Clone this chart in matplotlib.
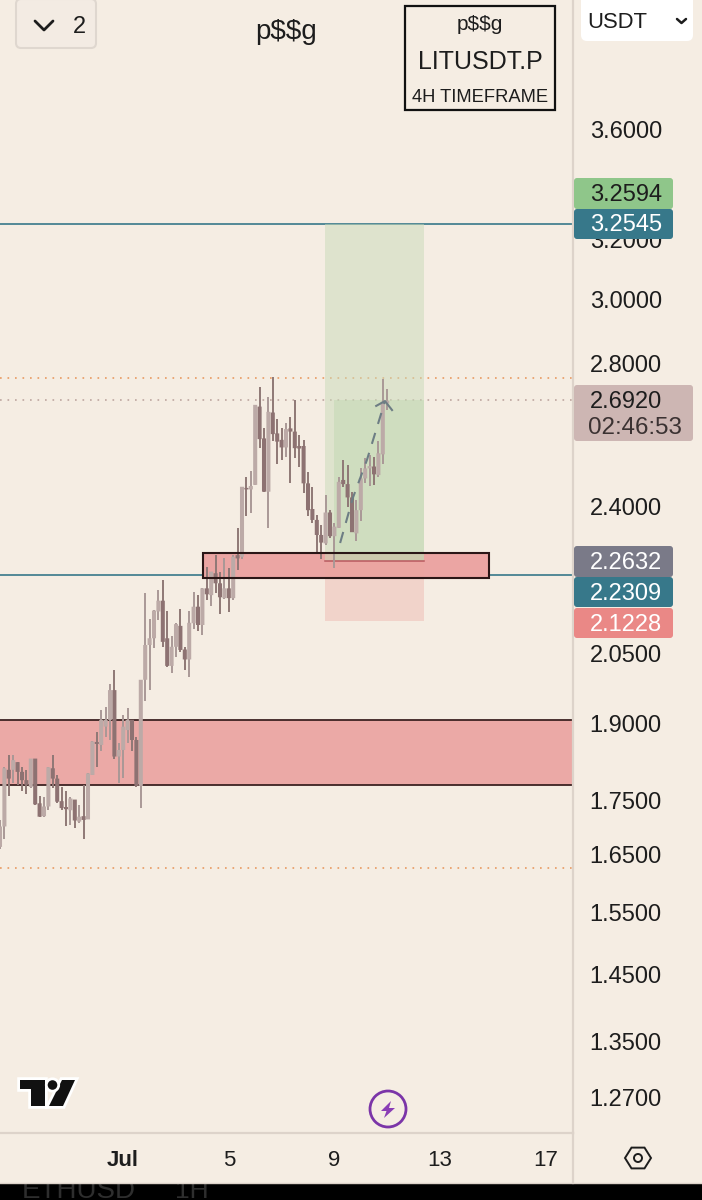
import numpy as np
import matplotlib
matplotlib.use('Agg')
import matplotlib.pyplot as plt
from matplotlib.patches import FancyBboxPatch, Rectangle, Polygon, Circle
from matplotlib.ticker import FixedLocator, FixedFormatter, NullLocator
import matplotlib.patheffects as pe

plt.rcParams['font.family'] = ['Liberation Sans', 'DejaVu Sans']

# 4H candles, first at index 0; day ticks every 24 candles
opens = [1.664,1.701,1.808,1.808,1.823,1.804,1.788,1.775,
         1.830,1.744,1.720,1.738,1.811,1.791,1.748,1.735,
         1.731,1.751,1.710,1.720,1.714,1.798,1.862,1.857,
         1.894,1.908,1.970,1.834,1.847,1.887,1.908,1.867,
         1.777,1.992,2.068,2.083,2.144,2.169,2.083,2.022,
         2.064,2.111,2.058,2.036,2.117,2.155,2.113,2.198,
         2.182,2.234,2.210,2.175,2.198,2.175,2.278,2.274,
         2.449,2.445,2.457,2.673,2.583,2.439,2.656,2.597,
         2.579,2.558,2.611,2.602,2.562,2.562,2.461,2.394,
         2.366,2.328,2.307,2.385,2.325,2.346,2.470,2.459,
         2.424,2.332,2.391,2.474,2.501,2.506,2.483,2.539,
         2.682]
highs = [1.713,1.814,1.837,1.837,1.824,1.814,1.808,1.830,
         1.830,1.758,1.756,1.813,1.837,1.798,1.775,1.768,
         1.755,1.751,1.741,1.779,1.801,1.864,1.884,1.928,
         1.935,1.984,2.013,1.860,1.918,1.932,1.908,1.874,
         1.992,2.186,2.127,2.147,2.193,2.219,2.144,2.087,
         2.117,2.150,2.064,2.144,2.189,2.182,2.198,2.250,
         2.238,2.278,2.238,2.270,2.246,2.278,2.345,2.452,
         2.479,2.495,2.678,2.729,2.611,2.702,2.761,2.637,
         2.611,2.625,2.644,2.692,2.593,2.579,2.492,2.452,
         2.379,2.353,2.430,2.391,2.357,2.479,2.524,2.510,
         2.439,2.417,2.501,2.528,2.537,2.533,2.576,2.753,
         2.723]
lows = [1.661,1.679,1.758,1.782,1.779,1.768,1.762,1.772,
        1.741,1.718,1.719,1.731,1.772,1.744,1.731,1.701,
        1.704,1.698,1.708,1.678,1.714,1.798,1.814,1.844,
        1.874,1.867,1.830,1.782,1.793,1.860,1.844,1.775,
        1.735,1.946,1.970,2.061,2.124,2.064,2.020,2.006,
        2.042,2.053,2.013,1.999,2.105,2.100,2.090,2.171,
        2.157,2.188,2.138,2.172,2.142,2.171,2.242,2.268,
        2.376,2.385,2.457,2.556,2.439,2.345,2.576,2.512,
        2.525,2.533,2.463,2.528,2.506,2.435,2.376,2.357,
        2.282,2.268,2.303,2.320,2.246,2.345,2.452,2.400,
        2.335,2.314,2.364,2.461,2.454,2.457,2.479,2.513,
        2.663]
closes = [1.701,1.811,1.791,1.827,1.804,1.788,1.779,1.830,
          1.742,1.719,1.738,1.813,1.791,1.747,1.735,1.733,
          1.753,1.712,1.719,1.713,1.801,1.864,1.859,1.908,
          1.908,1.970,1.834,1.847,1.894,1.908,1.867,1.777,
          1.992,2.068,2.083,2.146,2.169,2.075,2.022,2.064,
          2.115,2.057,2.036,2.118,2.155,2.113,2.198,2.184,
          2.238,2.210,2.177,2.198,2.175,2.274,2.270,2.452,
          2.445,2.454,2.678,2.581,2.439,2.658,2.595,2.574,
          2.558,2.609,2.602,2.556,2.555,2.461,2.391,2.366,
          2.328,2.309,2.385,2.325,2.349,2.465,2.459,2.424,
          2.335,2.391,2.474,2.501,2.507,2.485,2.542,2.687,
          2.690]

price_ticks = [3.6, 3.2, 3.0, 2.8, 2.4, 2.05, 1.9, 1.75, 1.65, 1.55, 1.45, 1.35, 1.27]
date_ticks = [28, 52, 76, 100, 124]
date_labels = ['Jul', '5', '9', '13', '17']

target_price = 3.2545
entry_price = 2.2632
stop_price = 2.1228
level_price = 2.2309
last_price = 2.6920
high_dotted = 2.757
low_dotted = 1.627
zone_big = (1.779, 1.908)
zone_small = (2.223, 2.283)
proj_x = [77.3, 80.2, 83.4, 87.5]
proj_y = [2.308, 2.423, 2.524, 2.689]
head_x = [85.5, 87.5, 89.1]
head_y = [2.675, 2.689, 2.663]

BG = '#f5ede3'
LIGHT = '#bcaaa7'
DARK = '#8d7272'
TEAL = '#37788a'
GRID = '#ddd3ca'
EDGE = '#3d2222'
TXT = '#1d1d1d'

fig = plt.figure(figsize=(7.02, 12), dpi=100, facecolor=BG)
ax = fig.add_axes([0, 67/1200, 573/702, 1133/1200], facecolor=BG)
ax.set_yscale('log')
ax.set_xlim(0, 573/4.4)
ax.set_ylim(3.6*np.exp(-1003/929), 3.6*np.exp(130/929))

# zones and levels
ax.axhspan(zone_big[0], zone_big[1], facecolor='#eba9a6', edgecolor='none', zorder=1)
ax.axhline(zone_big[0], color=EDGE, lw=1.3, zorder=1.5)
ax.axhline(zone_big[1], color=EDGE, lw=1.3, zorder=1.5)
ax.axhline(target_price, color=TEAL, lw=1.2, zorder=1)
ax.axhline(level_price, color=TEAL, lw=1.2, zorder=1)
ax.axhline(high_dotted, color='#e89a62', lw=1.2, ls=(0, (1, 3.5)), zorder=1)
ax.axhline(low_dotted, color='#e89a62', lw=1.2, ls=(0, (1, 3.5)), zorder=1)
ax.axhline(last_price, color='#bda59f', lw=1.2, ls=(0, (1, 3.5)), zorder=1)

bx0, bx1 = 203/4.4, 489/4.4
ax.add_patch(Rectangle((bx0, zone_small[0]), bx1-bx0, zone_small[1]-zone_small[0],
                       facecolor='#eba5a3', edgecolor='none', zorder=2))
# long position tool
px0, pxm, px1 = 325/4.4, 334/4.4, 424/4.4
ax.add_patch(Rectangle((px0, entry_price), px1-px0, target_price-entry_price,
                       facecolor='#c9dbb9', alpha=0.5, edgecolor='none', zorder=3))
ax.add_patch(Rectangle((pxm, entry_price), px1-pxm, last_price-entry_price,
                       facecolor='#bcd6ad', alpha=0.42, edgecolor='none', zorder=3))
ax.add_patch(Rectangle((px0, stop_price), px1-px0, entry_price-stop_price,
                       facecolor='#eba6a0', alpha=0.36, edgecolor='none', zorder=3))
ax.plot([px0, px1], [entry_price, entry_price], color='#b9595f', lw=1.1, zorder=4)

# candles
x = np.arange(len(opens))
o, h, l, c = map(np.array, (opens, highs, lows, closes))
up = c >= o
cols = np.where(up, LIGHT, DARK)
ax.vlines(x, l, h, colors=np.where(up, '#a99896', '#8f7876'), lw=1.4, zorder=5)
bars = ax.bar(x, np.maximum(np.abs(c-o), 0.004), bottom=np.minimum(o, c), width=0.92, color=cols, zorder=6)
for b in bars:
    b.set_snap(False)

# small zone outline on top
ax.add_patch(Rectangle((bx0, zone_small[0]), bx1-bx0, zone_small[1]-zone_small[0],
                       facecolor='none', edgecolor='#2a1616', lw=1.5, zorder=7))
# projected path
ax.plot(proj_x, proj_y, color='#6d7d84', lw=1.5, ls=(0, (5.5, 4.5)), zorder=8)
ax.plot(head_x, head_y, color='#6d7d84', lw=1.5, zorder=8)

for s in ('top', 'left'):
    ax.spines[s].set_visible(False)
for s in ('right', 'bottom'):
    ax.spines[s].set_color(GRID)
    ax.spines[s].set_linewidth(1.6)
ax.yaxis.tick_right()
ax.yaxis.set_major_locator(FixedLocator(price_ticks))
ax.yaxis.set_major_formatter(FixedFormatter(['%.4f' % p for p in price_ticks]))
ax.yaxis.set_minor_locator(NullLocator())
ax.tick_params(axis='y', length=0, pad=12, labelsize=17, labelcolor=TXT)
ax.set_xticks(date_ticks, date_labels)
ax.tick_params(axis='x', length=0, pad=12, labelsize=16, labelcolor=TXT)
ax.get_xticklabels()[0].set_fontweight('bold')

# interface chrome in pixel coordinates
ov = fig.add_axes([0, 0, 1, 1], facecolor='none', zorder=10)
ov.set_xlim(0, 702)
ov.set_ylim(1200, 0)
ov.axis('off')

def tag(x0, y0, x1, y1, col, zorder=2):
    ov.add_patch(FancyBboxPatch((x0+3, y0+3), x1-x0-6, y1-y0-6, boxstyle='round,pad=3,rounding_size=3',
                                facecolor=col, edgecolor='none', zorder=zorder))

def label(x, y, s, size=17, color=TXT, ha='center', **kw):
    kw.setdefault('va', 'center')
    return ov.text(x, y, s, fontsize=size, color=color, ha=ha, parse_math=False, **kw)

tag(574, 178, 673, 209, '#8fc68a')
label(626, 195, '3.2594')
tag(574, 209, 673, 239, TEAL, 3)
label(626, 225, '3.2545', color='white', zorder=4)
tag(574, 385, 693, 441, '#cdb6b3')
label(626, 402, '2.6920')
label(635, 428, '02:46:53', size=17.4, color='#3b3232')
tag(574, 546, 673, 577, '#7a7a88')
label(626, 563, '2.2632', color='white')
tag(574, 577, 673, 607, TEAL, 3)
label(626, 594, '2.2309', color='white', zorder=4)
tag(574, 608, 673, 638, '#ea8886')
label(626, 625, '2.1228', color='white')

# top left button
ov.add_patch(FancyBboxPatch((19, 2), 74, 43, boxstyle='round,pad=3,rounding_size=5',
                            facecolor='#f3ebe3', edgecolor='#dfd7cf', lw=1.5))
ov.plot([35, 44, 53], [21, 30, 21], color=TXT, lw=2, solid_capstyle='round')
label(79, 27, '2', size=17)
label(286, 32, 'p$$g', size=20)

# title box
ov.add_patch(Rectangle((405, 6), 150, 104, facecolor=BG, edgecolor='#111111', lw=1.6))
label(480, 25, 'p$$g', size=15)
label(480, 62, 'LITUSDT.P', size=18)
label(480, 97, '4H TIMEFRAME', size=13.2)

# currency selector
ov.add_patch(FancyBboxPatch((584, -8), 106, 46, boxstyle='round,pad=3,rounding_size=6',
                            facecolor='white', edgecolor='none'))
label(587, 22, 'USDT', size=15.8, ha='left')
ov.plot([677, 681.5, 686], [19, 23, 19], color=TXT, lw=1.8, solid_capstyle='round')

# logo
halo = [pe.withStroke(linewidth=4, foreground='white')]
ov.add_patch(Polygon([(20, 1080), (45, 1080), (45, 1106), (31, 1106), (31, 1089), (20, 1089)],
                     facecolor='#111111', edgecolor='none', path_effects=halo))
ov.add_patch(Polygon([(62, 1080), (75, 1080), (63, 1106), (49, 1106)],
                     facecolor='#111111', edgecolor='none', path_effects=halo))
ov.add_patch(Circle((52.5, 1085), 4.8, facecolor='#111111', edgecolor='none', path_effects=halo))

# bolt badge
ov.add_patch(Circle((388, 1109), 18, facecolor='none', edgecolor='#7b35a8', lw=2))
ov.add_patch(Polygon([(391, 1101), (381, 1111), (386.5, 1111), (384, 1118), (395, 1108), (389, 1108)],
                     facecolor='#8a3db5', edgecolor='none'))

# settings hexagon
ang = np.deg2rad([0, 60, 120, 180, 240, 300])
ov.add_patch(Polygon(np.c_[638+13*np.cos(ang), 1158+12*np.sin(ang)], closed=True,
                     facecolor='none', edgecolor=TXT, lw=1.4))
ov.add_patch(Circle((638, 1158), 4, facecolor='none', edgecolor=TXT, lw=1.4))

# black strip below with its half-hidden caption; a cover keeps the caption inside the strip
ov.add_patch(Rectangle((0, 1183), 702, 17, facecolor='#000000', edgecolor='none', zorder=5))
label(22, 1198, 'ETHUSD', size=20, color='#2e2e2e', ha='left', va='baseline', zorder=6)
label(175, 1198, '1H', size=19, color='#2e2e2e', ha='left', va='baseline', zorder=6)
ov.add_patch(Rectangle((10, 1170), 210, 13, facecolor=BG, edgecolor='none', zorder=7))
ov.plot([573, 573], [1133, 1183], color=GRID, lw=1.6, zorder=8)
ov.plot([0, 702], [1183, 1183], color=GRID, lw=1, zorder=8)

fig.savefig('out.png', dpi=100, facecolor=BG)
